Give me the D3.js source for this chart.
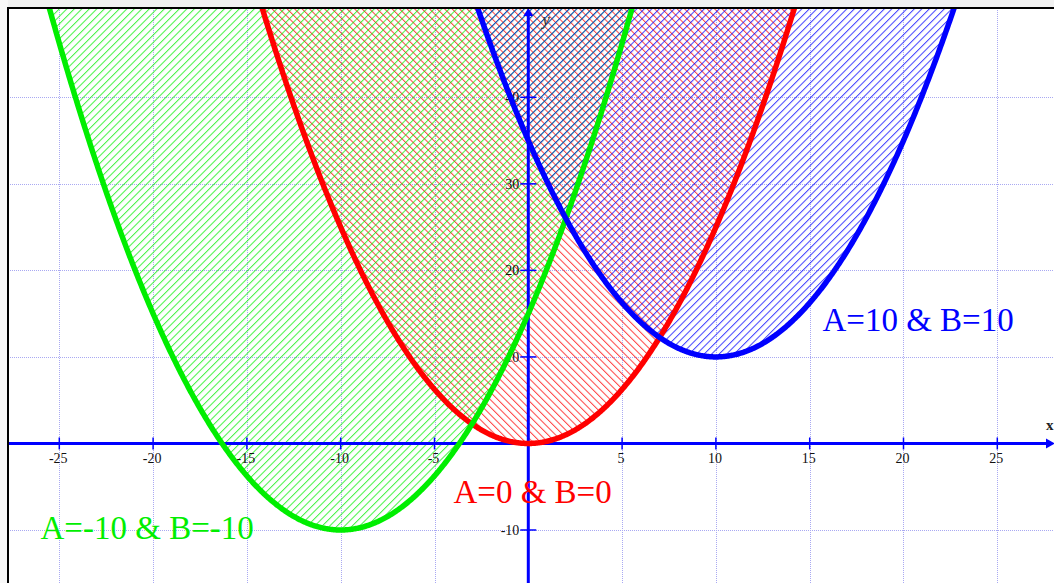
<!DOCTYPE html>
<html>
<head>
<meta charset="utf-8">
<script src="https://cdn.jsdelivr.net/npm/d3@7"></script>
<style>
  html, body { margin: 0; padding: 0; background: #fff; overflow: hidden; }
  svg { display: block; }
</style>
</head>
<body>
<svg id="chart" width="1054" height="583"></svg>
<script>
// Family of parabolas y = K * (x - A)^2 + B
const curveLabels = ["A=0 & B=0", "A=-10 & B=-10", "A=10 & B=10"];
const paramA = [0, -10, 10];
const paramB = [0, -10, 10];
const K = 0.25;
const curveColors = ["#ff0000", "#00ee00", "#0000ff"];
const hatchAngles = [-45, 45, 45];

const xTickValues = [-25, -20, -15, -10, -5, 5, 10, 15, 20, 25];
const yTickValues = [-10, 10, 20, 30, 40];
const xGridValues = [-25, -20, -15, -10, -5, 0, 5, 10, 15, 20, 25];
const yGridValues = [-10, 0, 10, 20, 30, 40];

const W = 1054, H = 583;
const plot = { left: 8, top: 8, right: W, bottom: H };

const svg = d3.select("#chart");

// scales calibrated on the grid
const x = d3.scaleLinear().domain([-25, 25]).range([59.3, 997.3]);
const y = d3.scaleLinear().domain([-10, 40]).range([530, 97.3]);
const xMin = x.invert(plot.left), xMax = x.invert(plot.right);

const f = (xv, i) => K * (xv - paramA[i]) ** 2 + paramB[i];

// ---- defs: clip + hatch patterns
const defs = svg.append("defs");
defs.append("clipPath").attr("id", "plotClip")
  .append("rect")
  .attr("x", plot.left).attr("y", plot.top)
  .attr("width", plot.right - plot.left).attr("height", plot.bottom - plot.top);

const hatchGap = 7.5 / Math.SQRT2;   // perpendicular spacing of hatch lines
curveColors.forEach((c, i) => {
  const p = defs.append("pattern")
    .attr("id", "hatch" + i)
    .attr("patternUnits", "userSpaceOnUse")
    .attr("width", hatchGap).attr("height", 10)
    .attr("patternTransform", `rotate(${hatchAngles[i]})`);
  p.append("rect")
    .attr("x", 0).attr("y", 0)
    .attr("width", 1).attr("height", 10)
    .attr("fill", c).attr("fill-opacity", 0.75);
});

// ---- frame background
svg.append("rect").attr("x", 0).attr("y", 0).attr("width", W).attr("height", plot.top)
  .attr("fill", "#f1f1f1");
svg.append("rect").attr("x", 0).attr("y", 0).attr("width", plot.left).attr("height", H)
  .attr("fill", "#f8f8f8");

const g = svg.append("g").attr("clip-path", "url(#plotClip)");

// ---- dotted grid
g.append("g").selectAll("line").data(xGridValues).join("line")
  .attr("x1", d => Math.round(x(d)) + 0.5).attr("x2", d => Math.round(x(d)) + 0.5)
  .attr("y1", plot.top).attr("y2", plot.bottom)
  .attr("stroke", "#a9a9f2").attr("stroke-width", 1).attr("stroke-dasharray", "1 1");
g.append("g").selectAll("line").data(yGridValues).join("line")
  .attr("y1", d => Math.round(y(d)) + 0.5).attr("y2", d => Math.round(y(d)) + 0.5)
  .attr("x1", plot.left).attr("x2", plot.right)
  .attr("stroke", "#a9a9f2").attr("stroke-width", 1).attr("stroke-dasharray", "1 1");

// ---- hatched regions above each parabola
const xs = d3.range(xMin, xMax + 0.05, 0.05);
const area = d3.area()
  .x(d => x(d.x))
  .y0(d => Math.min(y(d.y), plot.bottom + 50))
  .y1(plot.top);
curveColors.forEach((c, i) => {
  g.append("path")
    .datum(xs.map(v => ({ x: v, y: f(v, i) })))
    .attr("d", area)
    .attr("fill", `url(#hatch${i})`);
});

// ---- axes
const axisColor = "#0000ff";
const x0 = x(0), y0 = y(0);
g.append("line").attr("x1", plot.left).attr("x2", plot.right - 4)
  .attr("y1", y0).attr("y2", y0).attr("stroke", axisColor).attr("stroke-width", 3);
g.append("line").attr("x1", x0).attr("x2", x0)
  .attr("y1", plot.top + 6).attr("y2", plot.bottom)
  .attr("stroke", axisColor).attr("stroke-width", 3);
// arrow heads
g.append("path")
  .attr("d", `M${x0 - 5},${plot.top + 8} L${x0},${plot.top} L${x0 + 5},${plot.top + 8} Z`)
  .attr("fill", axisColor);
g.append("path")
  .attr("d", `M${plot.right - 8},${y0 - 5} L${plot.right + 1},${y0} L${plot.right - 8},${y0 + 5} Z`)
  .attr("fill", axisColor);

// tick marks
g.append("g").selectAll("line").data(xTickValues).join("line")
  .attr("x1", d => x(d)).attr("x2", d => x(d))
  .attr("y1", y0 - 6).attr("y2", y0 + 6)
  .attr("stroke", axisColor).attr("stroke-width", 1.5);
g.append("g").selectAll("line").data(yTickValues).join("line")
  .attr("y1", d => y(d)).attr("y2", d => y(d))
  .attr("x1", x0 - 8).attr("x2", x0 + 8)
  .attr("stroke", axisColor).attr("stroke-width", 1.5);

// tick labels
const tickFont = "'Liberation Serif', 'Times New Roman', serif";
g.append("g").selectAll("text").data(xTickValues).join("text")
  .attr("x", d => x(d) - 1).attr("y", y0 + 20)
  .attr("text-anchor", "middle")
  .attr("font-family", tickFont).attr("font-size", 14).attr("fill", "#111")
  .text(d => d);
g.append("g").selectAll("text").data(yTickValues).join("text")
  .attr("x", x0 - 9).attr("y", d => y(d) + 5)
  .attr("text-anchor", "end")
  .attr("font-family", tickFont).attr("font-size", 14).attr("fill", "#111")
  .text(d => d);

// axis names
g.append("text").attr("x", x0 + 14).attr("y", plot.top + 17)
  .attr("font-family", tickFont).attr("font-size", 17).attr("font-style", "italic")
  .attr("fill", "#333").text("y");
g.append("text").attr("x", plot.right - 8).attr("y", y0 - 13)
  .attr("font-family", tickFont).attr("font-size", 15).attr("font-weight", "bold")
  .attr("fill", "#222").text("x");

// ---- parabola curves (red, green, blue order)
const line = d3.line().x(d => x(d.x)).y(d => y(d.y));
curveColors.forEach((c, i) => {
  g.append("path")
    .datum(xs.filter(v => f(v, i) < y.invert(plot.top - 20)).map(v => ({ x: v, y: f(v, i) })))
    .attr("d", line)
    .attr("fill", "none")
    .attr("stroke", c)
    .attr("stroke-width", 5.5)
    .attr("stroke-linejoin", "round");
});

// ---- curve captions, placed relative to each vertex (data units)
const captionOffsets = [[-3.99, -6.88], [-16.0, -1.04], [5.68, 3.0]];
curveLabels.forEach((t, i) => {
  svg.append("text")
    .attr("x", x(paramA[i] + captionOffsets[i][0]))
    .attr("y", y(paramB[i] + captionOffsets[i][1]))
    .attr("font-family", tickFont)
    .attr("font-size", 33)
    .attr("fill", curveColors[i])
    .text(t);
});

// ---- frame lines
svg.append("line").attr("x1", plot.left - 1).attr("x2", W).attr("y1", plot.top).attr("y2", plot.top)
  .attr("stroke", "#000").attr("stroke-width", 2);
svg.append("line").attr("x1", plot.left).attr("x2", plot.left).attr("y1", plot.top - 1).attr("y2", H)
  .attr("stroke", "#000").attr("stroke-width", 2);
</script>
</body>
</html>
